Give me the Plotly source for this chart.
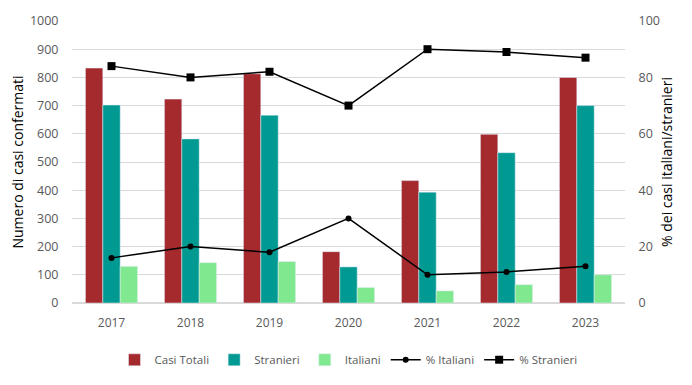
import plotly.graph_objects as go

years = ["2017", "2018", "2019", "2020", "2021", "2022", "2023"]
casi_totali = [833, 723, 813, 182, 434, 598, 800]
stranieri = [702, 582, 666, 128, 393, 533, 700]
italiani = [130, 143, 147, 55, 43, 65, 100]
pct_italiani = [16, 20, 18, 30, 10, 11, 13]
pct_stranieri = [84, 80, 82, 70, 90, 89, 87]

font = "Open Sans"
grey = "#595959"

fig = go.Figure()
fig.add_trace(go.Bar(x=years, y=casi_totali, name="Casi Totali", marker_color="#A52A2E"))
fig.add_trace(go.Bar(x=years, y=stranieri, name="Stranieri", marker_color="#009A93"))
fig.add_trace(go.Bar(x=years, y=italiani, name="Italiani", marker_color="#80E88F"))
fig.add_trace(go.Scatter(x=years, y=pct_italiani, name="% Italiani", yaxis="y2",
                         mode="lines+markers", line=dict(color="black", width=1.5),
                         marker=dict(symbol="circle", size=6, color="black")))
fig.add_trace(go.Scatter(x=years, y=pct_stranieri, name="% Stranieri", yaxis="y2",
                         mode="lines+markers", line=dict(color="black", width=1.5),
                         marker=dict(symbol="square", size=8, color="black")))

fig.update_layout(
    width=692, height=385,
    margin=dict(l=64, r=75, t=13, b=90, autoexpand=False),
    plot_bgcolor="white", paper_bgcolor="white",
    barmode="group", bargap=0.34, bargroupgap=0,
    font=dict(family=font, size=12, color=grey),
    xaxis=dict(showgrid=False, showline=False, ticks="outside", ticklen=9, tickcolor="rgba(0,0,0,0)",
               tickfont=dict(size=12, color=grey)),
    yaxis=dict(range=[0, 1000], dtick=100, showgrid=True, gridcolor="#D9D9D9", gridwidth=1,
               zeroline=True, zerolinecolor="#D9D9D9",
               ticks="outside", ticklen=10, tickcolor="rgba(0,0,0,0)",
               title=dict(text="Numero di casi confermati", font=dict(size=14, color="black"), standoff=11),
               tickfont=dict(size=12.5, color=grey)),
    yaxis2=dict(range=[0, 100], dtick=20, overlaying="y", side="right", showgrid=False,
                zeroline=False, ticks="outside", ticklen=10, tickcolor="rgba(0,0,0,0)",
                title=dict(text="% dei casi italiani/stranieri", font=dict(size=14, color="black"), standoff=3),
                tickfont=dict(size=12.5, color=grey)),
    legend=dict(orientation="h", x=0.5, xanchor="center", y=-0.15, yanchor="top",
                font=dict(size=11.5, color=grey), traceorder="normal", itemwidth=30),
)

fig.write_html("out.html")
